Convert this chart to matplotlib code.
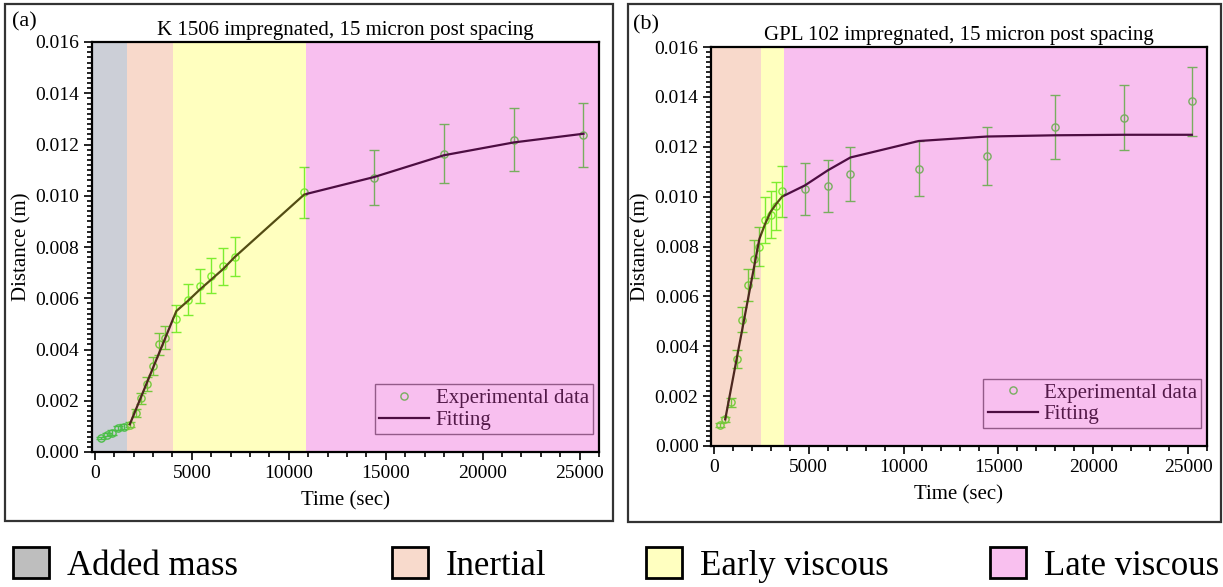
"""Capillary rise of two impregnated samples: distance vs time with flow regimes."""

import matplotlib
matplotlib.use("Agg")
import matplotlib.pyplot as plt
from matplotlib.lines import Line2D
from matplotlib.patches import Patch, Rectangle
from matplotlib.ticker import FormatStrFormatter, MultipleLocator

plt.rcParams["font.family"] = ["Liberation Serif", "DejaVu Serif"]

# Panel (a): K 1506
time_a = [300, 600, 900, 1200, 1500, 1800, 2100, 2400, 2700, 3000, 3300, 3600,
          4200, 4800, 5400, 6000, 6600, 7200, 10800, 14400, 18000, 21600, 25200]
dist_a = [0.00054, 0.00068, 0.00076, 0.00094, 0.00099, 0.00107, 0.00152, 0.00209,
          0.00265, 0.00335, 0.00421, 0.00446, 0.00520, 0.00595, 0.00648, 0.00688,
          0.00725, 0.00762, 0.01013, 0.01071, 0.01164, 0.01219, 0.01238]
err_a = [0.00005, 0.00007, 0.00008, 0.00009, 0.00010, 0.00011, 0.00015, 0.00021,
         0.00027, 0.00034, 0.00042, 0.00045, 0.00052, 0.00060, 0.00065, 0.00069,
         0.00073, 0.00076, 0.00101, 0.00107, 0.00116, 0.00122, 0.00124]
fit_time_a = [1800, 4200, 4800, 5400, 6000, 6600, 7200, 10800, 14400, 18000, 21600, 25200]
fit_dist_a = [0.00108, 0.00550, 0.00590, 0.00633, 0.00673, 0.00713, 0.00760,
              0.01005, 0.01073, 0.01158, 0.01208, 0.01242]
bounds_a = [1650, 4030, 10870]
regimes_a = ["Added mass", "Inertial", "Early viscous", "Late viscous"]

# Panel (b): GPL 102
time_b = [300, 600, 900, 1200, 1500, 1800, 2100, 2400, 2700, 3000, 3300, 3600,
          4800, 6000, 7200, 10800, 14400, 18000, 21600, 25200]
dist_b = [0.00084, 0.00107, 0.00176, 0.00348, 0.00507, 0.00645, 0.00750, 0.00800,
          0.00906, 0.00928, 0.00961, 0.01022, 0.01031, 0.01044, 0.01092, 0.01112,
          0.01162, 0.01278, 0.01317, 0.01383]
err_b = [0.00008, 0.00011, 0.00018, 0.00035, 0.00051, 0.00065, 0.00075, 0.00080,
         0.00091, 0.00093, 0.00096, 0.00102, 0.00103, 0.00104, 0.00109, 0.00111,
         0.00116, 0.00128, 0.00132, 0.00138]
fit_time_b = [600, 2400, 2700, 3000, 3300, 3600, 4800, 6000, 7200, 10800, 14400,
              18000, 21600, 25200]
fit_dist_b = [0.00107, 0.00830, 0.00890, 0.00940, 0.00972, 0.01000, 0.01045,
              0.01105, 0.01157, 0.01223, 0.01241, 0.01246, 0.01248, 0.01248]
bounds_b = [2500, 3700]
regimes_b = ["Inertial", "Early viscous", "Late viscous"]

# Shading is laid over the data with alpha, which tints the line and markers.
OVERLAY = {
    "Added mass": "#58627d",
    "Inertial": "#e88455",
    "Early viscous": "#ffff2d",
    "Late viscous": "#eb2dca",
}
SWATCH = {
    "Added mass": "#bebebe",
    "Inertial": "#f8dacc",
    "Early viscous": "#ffffc0",
    "Late viscous": "#f9c0ef",
}
GREEN = "#46e632"
FIT = "#0a0008"
XMIN, XMAX = -150, 26000
W, H = 1223, 587


def px_axes(fig, left, top, right, bottom):
    return fig.add_axes([left / W, 1 - bottom / H, (right - left) / W, (bottom - top) / H])


def draw_panel(ax, t, d, e, ft, fd, bounds, regimes, title):
    ax.errorbar(t, d, yerr=e, fmt="o", mfc="none", mec=GREEN, ecolor=GREEN,
                ms=5.2, mew=1.0, elinewidth=1.0, capsize=3.3, capthick=1.0,
                zorder=3)
    ax.plot(ft, fd, color=FIT, lw=1.6, zorder=4)

    edges = [XMIN] + bounds + [XMAX]
    for name, x0, x1 in zip(regimes, edges[:-1], edges[1:]):
        ax.axvspan(x0, x1, color=OVERLAY[name], alpha=0.3, lw=0, zorder=6)

    handles = [
        Line2D([], [], ls="none", marker="o", mfc="none", mec=GREEN, ms=5.2, mew=1.0),
        Line2D([], [], color=FIT, lw=1.6),
    ]
    leg = ax.legend(handles, ["Experimental data", "Fitting"], loc="lower right",
                    bbox_to_anchor=(0.988, 0.044), borderaxespad=0, fontsize=15,
                    frameon=True, fancybox=False, handlelength=2.4,
                    handletextpad=0.3, borderpad=0.2, labelspacing=0.1)
    leg.get_frame().set_facecolor("none")
    leg.get_frame().set_edgecolor("#4a4a4a")
    leg.get_frame().set_linewidth(1.0)
    leg.set_zorder(5)
    for txt in leg.get_texts():
        txt.set_color("#111111")

    ax.set_xlim(XMIN, XMAX)
    ax.set_ylim(0, 0.016)
    ax.xaxis.set_major_locator(MultipleLocator(5000))
    ax.xaxis.set_minor_locator(MultipleLocator(1000))
    ax.yaxis.set_major_locator(MultipleLocator(0.002))
    ax.yaxis.set_minor_locator(MultipleLocator(0.0002))
    ax.yaxis.set_major_formatter(FormatStrFormatter("%.3f"))
    ax.tick_params(which="both", direction="out", labelsize=14, width=1.2, pad=3)
    ax.tick_params(which="major", length=6)
    ax.tick_params(which="minor", length=3.5)
    for sp in ax.spines.values():
        sp.set_linewidth(1.6)
        sp.set_zorder(10)
    ax.set_xlabel("Time (sec)", fontsize=15, labelpad=7)
    ax.set_ylabel("Distance (m)", fontsize=15, labelpad=3)
    ax.set_title(title, fontsize=15, pad=5)


def main():
    fig = plt.figure(figsize=(W / 100, H / 100), dpi=100)

    # Thin frames around each panel
    fig.patches.append(Rectangle((5 / W, 1 - 521 / H), 608 / W, 517 / H,
                                 transform=fig.transFigure, fill=False,
                                 ec="#333333", lw=1.6))
    fig.patches.append(Rectangle((628 / W, 1 - 522 / H), 593 / W, 518 / H,
                                 transform=fig.transFigure, fill=False,
                                 ec="#333333", lw=1.6))

    ax_a = px_axes(fig, 92, 42, 599, 452)
    ax_b = px_axes(fig, 711, 47, 1207, 446)
    draw_panel(ax_a, time_a, dist_a, err_a, fit_time_a, fit_dist_a, bounds_a,
               regimes_a, "K 1506 impregnated, 15 micron post spacing")
    draw_panel(ax_b, time_b, dist_b, err_b, fit_time_b, fit_dist_b, bounds_b,
               regimes_b, "GPL 102 impregnated, 15 micron post spacing")

    fig.text(12 / W, 1 - 22 / H, "(a)", fontsize=16, va="center")
    fig.text(633 / W, 1 - 25 / H, "(b)", fontsize=16, va="center")

    # Regime key along the bottom, one legend per entry to keep uneven spacing
    key_x = [13, 392, 646, 990]
    for x, name in zip(key_x, regimes_a):
        fig.legend(handles=[Patch(fc=SWATCH[name], ec="black", lw=2.0, label=name)],
                   loc="center left", bbox_to_anchor=(x / W, 1 - 565 / H),
                   frameon=False, fontsize=25, handlelength=1.05, handleheight=1.0,
                   handletextpad=0.5, borderpad=0, borderaxespad=0)

    fig.savefig("out.png", dpi=100)
    plt.close(fig)


if __name__ == "__main__":
    main()
